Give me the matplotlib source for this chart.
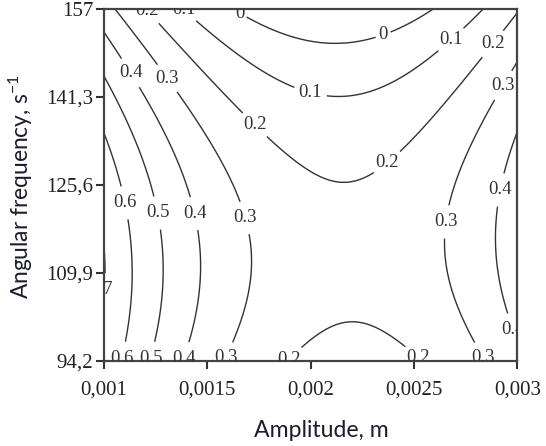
import numpy as np
import matplotlib
matplotlib.use("Agg")
import matplotlib.pyplot as plt

plt.rcParams["mathtext.fontset"] = "custom"
plt.rcParams["mathtext.rm"] = "Lato"
plt.rcParams["mathtext.it"] = "Lato:italic"

# ---- data ----
amplitude = [0.001, 0.0015, 0.002, 0.0025, 0.003]          # m
frequency = [94.2, 109.9, 125.6, 141.3, 157.0]             # s^-1
# response values at (frequency row, amplitude column)
z_f942 = [0.669, 0.338, 0.179, 0.192, 0.376]
z_f1099 = [0.706, 0.385, 0.235, 0.256, 0.449]
z_f1256 = [0.664, 0.352, 0.211, 0.241, 0.443]
z_f1413 = [0.542, 0.239, 0.107, 0.147, 0.357]
z_f157 = [0.341, 0.047, -0.076, -0.028, 0.192]
levels = [0.0, 0.1, 0.2, 0.3, 0.4, 0.5, 0.6, 0.7]
xtick_labels = ["0,001", "0,0015", "0,002", "0,0025", "0,003"]
ytick_labels = ["94,2", "109,9", "125,6", "141,3", "157"]

# label anchor positions (amplitude, frequency)
label_pos = [
    (0.00121, 156.6), (0.00138, 156.6), (0.00166, 156.4), (0.00235, 152.5),
    (0.00268, 151.5), (0.00288, 150.8), (0.00113, 145.6), (0.00131, 144.7),
    (0.00200, 142.2), (0.00293, 143.4), (0.00173, 136.3), (0.00236, 130.1),
    (0.00292, 124.7), (0.00110, 122.4), (0.00126, 120.6), (0.00145, 120.6),
    (0.00168, 119.7), (0.00266, 119.0), (0.00101, 106.9), (0.00297, 99.7),
    (0.00108, 94.8), (0.00122, 94.8), (0.00138, 94.8), (0.00159, 94.8),
    (0.00189, 94.8), (0.00252, 94.8), (0.00283, 94.8),
]

# ---- smooth response surface (quadratic fit of the read grid) ----
Z = np.array([z_f942, z_f1099, z_f1256, z_f1413, z_f157])
A, F = np.meshgrid(amplitude, frequency)
def basis(a, f):
    u = (np.asarray(a) - 0.002) / 0.001
    v = (np.asarray(f) - 125.6) / 31.4
    return np.stack([np.ones_like(u), u, v, u * u, v * v, u * v], axis=-1)
coef, *_ = np.linalg.lstsq(basis(A.ravel(), F.ravel()), Z.ravel(), rcond=None)
ag = np.linspace(amplitude[0], amplitude[-1], 300)
fg = np.linspace(frequency[0], frequency[-1], 300)
AG, FG = np.meshgrid(ag, fg)
ZG = basis(AG, FG) @ coef

# ---- figure ----
fig = plt.figure(figsize=(5.46, 4.46), dpi=100)
ax = fig.add_axes([0.1896, 0.1906, 0.9478 - 0.1896, 0.9798 - 0.1906])

cs = ax.contour(AG, FG, ZG, levels=levels, colors="#333333", linewidths=1.0)
texts = ax.clabel(cs, levels, fmt="%g", manual=label_pos, inline=True,
                  inline_spacing=2, fontsize=13.5, colors="#333333")
for t in texts:
    t.set_rotation(0)
    t.set_fontfamily("Liberation Serif")
    if t.get_text() == "0.7":
        x, y = t.get_position()
        t.set_position((x - 0.00002, y))

ax.set_xlim(amplitude[0], amplitude[-1])
ax.set_ylim(frequency[0], frequency[-1])
ax.set_xticks(amplitude)
ax.set_xticklabels(xtick_labels)
ax.set_yticks(frequency)
ax.set_yticklabels(ytick_labels)

for lab in ax.get_xticklabels() + ax.get_yticklabels():
    lab.set_fontfamily("Liberation Serif")
    lab.set_fontsize(15)
    lab.set_color("#222222")

ax.tick_params(axis="x", direction="out", length=6, width=1.5, pad=8, color="#333333")
ax.tick_params(axis="y", direction="out", length=6, width=1.5, pad=1.5, color="#333333")
for s in ax.spines.values():
    s.set_linewidth(1.6)
    s.set_color("#444444")

ax.set_xlabel("Amplitude, m", fontsize=16.6, family="Lato", color="#1c1c30")
ax.set_ylabel("Angular frequency, s$^{-1}$", fontsize=16.4, family="Lato", color="#1c1c30")
ax.xaxis.set_label_coords(0.527, -0.168)
ax.yaxis.set_label_coords(-0.165, 0.495)

fig.savefig("out.png", dpi=100)
